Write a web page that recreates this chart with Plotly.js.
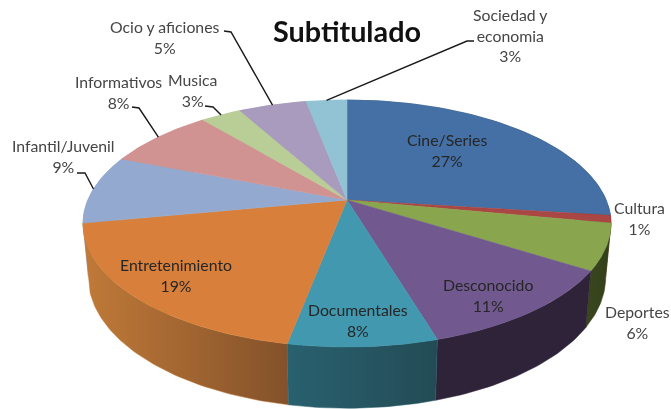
<!DOCTYPE html>
<html>
<head>
<meta charset="utf-8">
<script src="https://cdn.plot.ly/plotly-3.0.1.min.js"></script>
<style>
html,body{margin:0;padding:0;background:#fff;overflow:hidden}
#chart{width:671px;height:409px;filter:blur(0.55px)}
</style>
</head>
<body>
<div id="chart"></div>
<script>
// ---- data ----
const categories = ["Cine/Series","Cultura","Deportes","Desconocido","Documentales","Entretenimiento","Infantil/Juvenil","Informativos","Musica","Ocio y aficiones","Sociedad y<br>economia"];
const values = [27,1,6,11.4,7.6,19,9,8,3,5,3];
const topColors = ["#4470a5","#aa4643","#89a54e","#71588f","#4198af","#d8803b","#93a9cf","#d19392","#b9cd96","#a99bbd","#91c3d5"];
const sideLeft = ["#2d4a6e","#5e2726","#3a471d","#2e2339","#29616f","#c07a38","#93a9cf","#d19392","#b9cd96","#a99bbd","#91c3d5"];
const sideRight = ["#2d4a6e","#5e2726","#333f1a","#2e2339","#234b55","#83512a","#93a9cf","#d19392","#b9cd96","#a99bbd","#91c3d5"];

// ---- label placement (pixels of the 671x409 frame) ----
const labelX = [447,639,637,488,358,176,63,118,192,165,510];
const labelY = [150,218,322,295,320,275,156,92,90,37,35];
const darkLabel = [true,false,false,true,true,true,false,false,false,false,false];
// leader elbow: [end of horizontal stub near the text, elbow]; null = no leader
const leaders = [null,null,null,null,null,null,[[77,173],[85,173]],[[132,107],[139,108]],[[205,106],[213,107]],[[224,31],[231,32]],[[474,41],[467,41]]];

// ---- perspective disc projection ----
const view = {cx:347, cy:200, rx:259.2, ry:119, p:0.1903, bottomScale:0.98, drop:52};
function project(f, bottom){
  const t = 2*Math.PI*f, w = 1 + view.p*Math.cos(t), s = bottom ? view.bottomScale : 1, d = bottom ? view.drop : 0;
  return [view.cx + s*view.rx*Math.sin(t)/w, view.cy + (-s*view.ry*Math.cos(t) + d)/w];
}
const total = values.reduce((a,b)=>a+b,0);
const slices = [];
let acc = 0;
values.forEach((v,i)=>{ slices.push({i, f0:acc/total, f1:(acc+v)/total}); acc += v; });
function arc(s, bottom, reverse){
  const n = Math.max(4, Math.round((s.f1-s.f0)*360)), pts = [];
  for(let k=0;k<=n;k++){ const q = reverse ? n-k : k; pts.push(project(s.f0+(s.f1-s.f0)*q/n, bottom)); }
  return pts;
}
const traces = [];
// side walls, back to front
[...slices].sort((a,b)=>Math.cos(Math.PI*(a.f0+a.f1))-Math.cos(Math.PI*(b.f0+b.f1))).reverse().forEach(s=>{
  const pts = arc(s,false,false).concat(arc(s,true,true));
  pts.push(pts[0]);
  traces.push({type:"scatter",mode:"lines",x:pts.map(p=>p[0]),y:pts.map(p=>p[1]),fill:"toself",
    line:{width:0.5,color:sideLeft[s.i]},hoverinfo:"skip",showlegend:false,
    fillgradient:{type:"horizontal",colorscale:[[0,sideLeft[s.i]],[1,sideRight[s.i]]]}});
});
// top faces
slices.forEach(s=>{
  const pts = [[view.cx,view.cy]].concat(arc(s,false,false)); pts.push([view.cx,view.cy]);
  traces.push({type:"scatter",mode:"lines",x:pts.map(p=>p[0]),y:pts.map(p=>p[1]),fill:"toself",fillcolor:topColors[s.i],
    line:{width:0.5,color:topColors[s.i]},name:categories[s.i].replace("<br>"," "),text:Math.round(values[s.i])+"%",hoverinfo:"name+text",showlegend:false});
});
// leader lines
slices.forEach(s=>{
  const l = leaders[s.i]; if(!l) return;
  const end = project((s.f0+s.f1)/2,false);
  traces.push({type:"scatter",mode:"lines",x:[l[0][0],l[1][0],end[0]],y:[l[0][1],l[1][1],end[1]],
    line:{width:1.4,color:"#1a1a1a"},hoverinfo:"skip",showlegend:false});
});
const annotations = categories.map((c,i)=>({
  x:labelX[i],y:labelY[i],xref:"x",yref:"y",showarrow:false,align:"center",
  text:c+"<br>"+Math.round(values[i])+"%",
  font:{family:"Lato, sans-serif",size:15.8,color:darkLabel[i]?"#262626":"#454545"}
}));
const layout = {
  width:671,height:409,margin:{l:0,r:0,t:0,b:0},paper_bgcolor:"#fff",plot_bgcolor:"#fff",showlegend:false,
  title:{text:"<b>Subtitulado</b>",x:347/671,xanchor:"center",y:1-32/409,yanchor:"middle",font:{family:"Lato, sans-serif",size:28.8,color:"#111"}},
  xaxis:{range:[0,671],visible:false,fixedrange:true},
  yaxis:{range:[409,0],visible:false,fixedrange:true},
  annotations
};
Plotly.newPlot("chart",traces,layout,{displayModeBar:false,responsive:false});
</script>
</body>
</html>
